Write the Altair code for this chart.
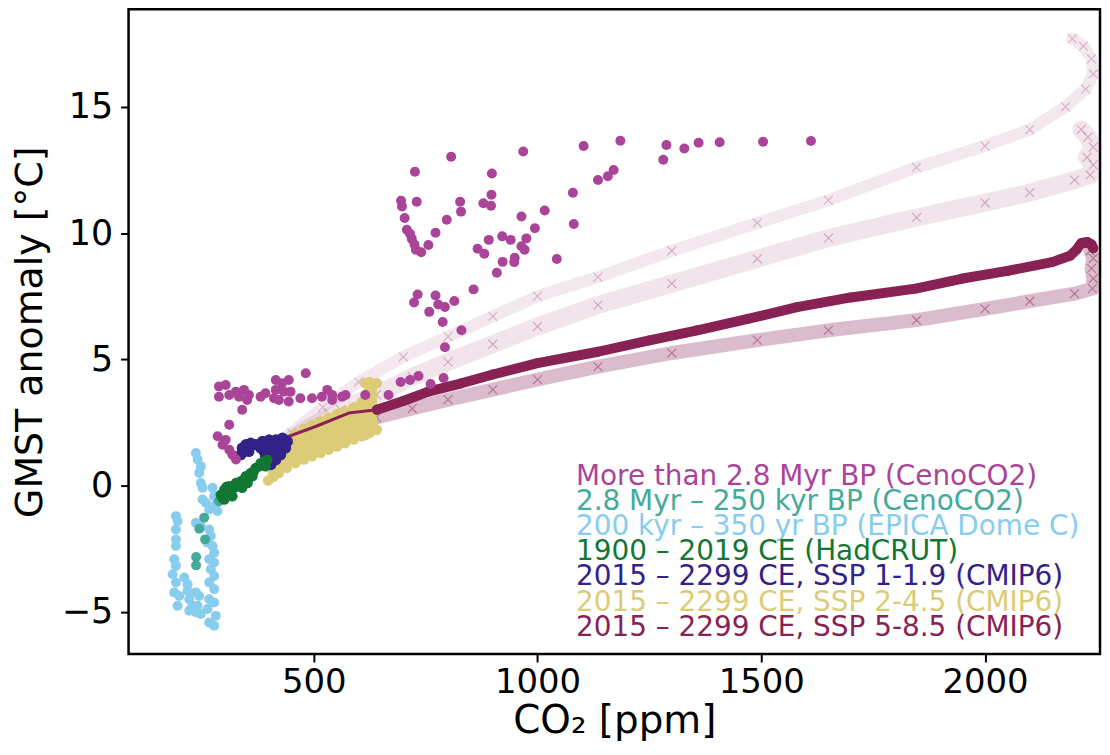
import altair as alt
import pandas as pd

# ---------------- colours (Tol muted) ----------------
C_OLD = "#AA4499"
C_YOUNG = "#44AA99"
C_EPICA = "#88CCEE"
C_HAD = "#117733"
C_119 = "#332288"
C_245 = "#DDCC77"
C_585 = "#882255"

# ---------------- data ----------------
# More than 2.8 Myr BP (CenoCO2)
ceno_old_co2 = [1103, 1185, 1288, 1328, 1360, 1407, 1504, 1611, 1281, 1170, 1157, 1135,
                968, 807, 726, 898, 1079, 897, 695, 697, 730, 827, 879, 896, 829, 1016,
                703, 964, 797, 1081, 708, 715, 772, 994, 719, 725, 756, 921, 940, 975,
                891, 866, 881, 964, 971, 728, 740, 1043, 949, 922, 948, 909, 857, 732,
                724, 772, 778, 793, 814, 758, 788, 830, 793,
                288, 303, 288, 311, 326, 344, 333, 351, 355, 381, 392, 411, 415, 415,
                429, 433, 422, 444, 448, 444, 482, 470, 496, 518, 530, 541, 541, 563,
                571, 615, 715, 340, 311, 285, 303, 296, 311, 318, 326,
                667, 694, 734, 761, 790]
ceno_old_t = [13.45, 13.66, 13.49, 13.35, 13.58, 13.60, 13.62, 13.65, 12.90, 12.50, 12.25, 12.10,
              13.23, 13.02, 12.43, 12.36, 11.60, 11.52, 11.28, 11.05, 11.24, 11.24, 11.18, 11.08, 10.85, 10.89,
              10.60, 10.66, 10.53, 10.36, 10.13, 9.97, 10.01, 10.19, 9.77, 9.55, 9.53, 9.87, 9.73, 9.79,
              9.73, 9.38, 9.18, 9.48, 9.34, 9.34, 9.24, 8.97, 9.02, 8.86, 8.85, 8.43, 7.77, 7.57,
              7.25, 7.53, 7.17, 7.07, 7.31, 6.88, 6.48, 6.15, 5.48,
              3.92, 3.98, 3.52, 3.59, 3.72, 3.79, 3.52, 3.39, 3.59, 3.52, 3.66, 3.46, 3.79, 4.18,
              4.05, 3.72, 3.39, 4.18, 3.72, 3.33, 4.45, 3.46, 3.46, 3.52, 3.79, 3.59, 3.39, 3.52,
              3.59, 3.59, 4.18, 3.00, 2.41, 1.95, 1.81, 1.62, 1.42, 1.22, 1.03,
              3.59, 4.10, 4.34, 4.02, 4.26]

# 2.8 Myr - 250 kyr BP (CenoCO2)
ceno_young_co2 = [255, 244, 257, 237, 237, 288]
ceno_young_t = [-1.27, -1.71, -2.13, -2.83, -3.16, -0.62]

# 200 kyr - 350 yr BP (EPICA Dome C)
epica_co2 = [236.5, 240.2, 247.6, 243.9, 247.6, 251.3, 273.6, 277.3, 251.3, 258.8, 281.0, 266.2,
             284.7, 191.9, 195.6, 191.9, 191.9, 191.9, 236.5, 247.6, 266.2, 269.9, 262.5, 273.6,
             277.3, 266.2, 277.3, 269.9, 277.3, 188.2, 191.9, 184.5, 191.9, 210.5, 217.9, 188.2,
             199.4, 217.9, 236.5, 221.6, 195.6, 221.6, 240.2, 243.9, 266.2, 277.3, 266.2, 277.3,
             262.5, 281.0, 266.2, 277.3, 236.5, 229.1, 247.6]
epica_t = [1.29, 1.03, 0.76, 0.50, 0.10, -0.09, -0.09, -0.42, -0.55, -0.68, -0.75, -0.95,
           -1.01, -1.21, -1.41, -1.74, -2.13, -2.39, -1.47, -1.61, -1.74, -2.00, -2.26, -2.39,
           -2.66, -2.92, -3.05, -3.31, -3.58, -2.92, -3.18, -3.51, -3.84, -3.64, -3.91, -4.23,
           -4.37, -4.17, -4.23, -4.50, -4.76, -4.96, -4.76, -4.37, -3.84, -4.10, -4.50, -4.63,
           -4.89, -5.16, -5.42, -5.55, -5.02, -4.76, -5.09]

# 1900 - 2019 CE (HadCRUT)
had_co2 = [292, 300, 296, 307, 311, 314, 322, 326, 333, 337, 344, 348, 355, 359, 366, 370,
           378, 381, 389, 392, 396, 303, 318, 340, 352, 363, 300, 305]
had_t = [-0.36, -0.16, -0.49, -0.36, -0.03, -0.29, -0.09, 0.10, -0.03, 0.17, 0.24, 0.37,
         0.30, 0.50, 0.57, 0.70, 0.76, 0.89, 0.96, 0.76, 1.02, -0.16, -0.42, -0.09, 0.10,
         0.37, -0.55, -0.05]

# 2015 - 2299 CE, SSP1-1.9 (CMIP6)
ssp119_co2 = [337, 340, 348, 359, 370, 385, 400, 415, 430, 441, 437, 422, 407, 392, 400,
              404, 415, 426, 355, 381, 355, 378, 400, 422, 389, 407]
ssp119_t = [1.22, 1.49, 1.62, 1.68, 1.62, 1.75, 1.81, 1.81, 1.88, 1.75, 1.49, 1.42, 1.29,
            1.16, 0.96, 0.83, 1.02, 1.22, 1.35, 1.49, 1.55, 1.62, 1.55, 1.62, 1.35, 1.09]

# 2015 - 2299 CE, SSP2-4.5 (CMIP6): model envelope
ssp245_co2 = [398, 410, 422, 440, 459, 478, 496, 515, 533, 552, 570, 589, 607, 615, 625, 641]
ssp245_lo = [0.20, 0.35, 0.50, 0.70, 0.89, 1.03, 1.16, 1.29, 1.42, 1.55, 1.68, 1.82, 1.95, 2.00, 2.08, 2.21]
ssp245_hi = [0.90, 1.30, 1.50, 1.85, 2.05, 2.25, 2.40, 2.55, 2.70, 2.85, 2.95, 3.10, 3.30, 4.05, 4.10, 4.05]

# 2015 - 2299 CE, SSP5-8.5 (CMIP6): solid trajectory
ssp585_early_co2 = [407, 444, 504, 578, 641]
ssp585_early_t = [1.75, 1.95, 2.34, 2.87, 3.00]
ssp585_co2 = [641, 700, 756, 830, 900, 1000, 1135, 1250, 1357, 1470, 1580, 1700, 1845,
              1950, 2050, 2150, 2190, 2205, 2215, 2228, 2238, 2242]
ssp585_t = [3.00, 3.35, 3.72, 4.05, 4.40, 4.85, 5.30, 5.75, 6.15, 6.60, 7.07, 7.45, 7.80,
            8.20, 8.50, 8.85, 9.10, 9.35, 9.60, 9.65, 9.55, 9.40]

# SSP5-8.5 individual models (faint crosses)
ssp585_a_co2 = [410, 450, 520, 600, 700, 800, 900, 1000, 1135, 1300, 1491, 1650, 1847,
                2000, 2100, 2180, 2225, 2242, 2238, 2220, 2195]
ssp585_a_t = [1.5, 2.1, 3.1, 4.1, 5.1, 5.9, 6.7, 7.5, 8.26, 9.3, 10.4, 11.3, 12.6,
              13.45, 14.1, 15.0, 15.7, 16.3, 16.9, 17.4, 17.7]
ssp585_b_co2 = [410, 480, 560, 640, 720, 800, 900, 1000, 1135, 1300, 1491, 1650, 1847,
                2000, 2100, 2200, 2235, 2242, 2228, 2242, 2230, 2215]
ssp585_b_t = [1.3, 2.2, 3.0, 3.6, 4.3, 4.9, 5.6, 6.3, 7.15, 8.0, 8.98, 9.8, 10.62,
              11.2, 11.6, 12.1, 12.3, 12.7, 13.0, 13.4, 13.8, 14.1]
ssp585_c_co2 = [410, 500, 580, 640, 720, 800, 900, 1000, 1135, 1300, 1491, 1650, 1847,
                2000, 2100, 2200, 2240, 2242, 2238, 2242, 2235]
ssp585_c_t = [1.1, 1.8, 2.3, 2.7, 3.05, 3.4, 3.8, 4.2, 4.71, 5.25, 5.76, 6.15, 6.55,
              7.0, 7.3, 7.6, 7.8, 8.2, 8.6, 9.0, 9.3]

legend_labels = [
    "More than 2.8 Myr BP (CenoCO2)",
    "2.8 Myr \u2013 250 kyr BP (CenoCO2)",
    "200 kyr \u2013 350 yr BP (EPICA Dome C)",
    "1900 \u2013 2019 CE (HadCRUT)",
    "2015 \u2013 2299 CE, SSP 1-1.9 (CMIP6)",
    "2015 \u2013 2299 CE, SSP 2-4.5 (CMIP6)",
    "2015 \u2013 2299 CE, SSP 5-8.5 (CMIP6)",
]
legend_colors = [C_OLD, C_YOUNG, C_EPICA, C_HAD, C_119, C_245, C_585]

x_ticks = [500, 1000, 1500, 2000]
y_ticks = [-5, 0, 5, 10, 15]

# ---------------- chart ----------------
FONT = "DejaVu Sans"
XDOM = [86, 2257]
YDOM = [-6.67, 18.86]

xaxis = alt.Axis(values=x_ticks, format="d", title="CO\u2082 [ppm]", labelFontSize=34, titleFontSize=39,
                 labelFont=FONT, titleFont=FONT, titleFontWeight="normal", tickSize=8,
                 tickWidth=2, tickColor="black", labelColor="black", titleColor="black",
                 domain=False, grid=False, labelPadding=4, titlePadding=2)
yaxis = alt.Axis(values=y_ticks, title="GMST anomaly [\u00b0C]", labelFontSize=35, titleFontSize=38,
                 labelFont=FONT, titleFont=FONT, titleFontWeight="normal", tickSize=8,
                 tickWidth=2, tickColor="black", labelColor="black", titleColor="black",
                 domain=False, grid=False, labelPadding=8, titlePadding=12)


def X():
    return alt.X("co2:Q", scale=alt.Scale(domain=XDOM, nice=False, zero=False), axis=xaxis)


def Y(field="t"):
    return alt.Y(f"{field}:Q", scale=alt.Scale(domain=YDOM, nice=False, zero=False), axis=yaxis)


def frame(co2, t):
    return pd.DataFrame({"co2": co2, "t": t, "i": list(range(len(co2)))})


def pts(co2, t, color, size=100, opacity=1.0):
    return alt.Chart(frame(co2, t)).mark_circle(color=color, size=size, opacity=opacity).encode(x=X(), y=Y())


def line(co2, t, color, width, opacity):
    return alt.Chart(frame(co2, t)).mark_line(
        color=color, strokeWidth=width, opacity=opacity, strokeCap="round", strokeJoin="round"
    ).encode(x=X(), y=Y(), order="i:Q")


def crosses(co2, t, opacity):
    return alt.Chart(frame(co2, t)).mark_point(
        shape="M-1,-1L1,1M-1,1L1,-1", filled=False, color=C_585, size=80,
        strokeWidth=1.2, opacity=opacity
    ).encode(x=X(), y=Y())


layers = []
# faint SSP5-8.5 model bands
layers.append(line(ssp585_a_co2, ssp585_a_t, C_585, 12, 0.10))
layers.append(line(ssp585_b_co2, ssp585_b_t, C_585, 18, 0.12))
layers.append(line(ssp585_c_co2, ssp585_c_t, C_585, 14, 0.30))
layers.append(crosses(ssp585_a_co2, ssp585_a_t, 0.25))
layers.append(crosses(ssp585_b_co2, ssp585_b_t, 0.3))
layers.append(crosses(ssp585_c_co2, ssp585_c_t, 0.45))

# SSP2-4.5 envelope
env = pd.DataFrame({"co2": ssp245_co2, "lo": ssp245_lo, "hi": ssp245_hi})
layers.append(alt.Chart(env).mark_area(color=C_245, opacity=1).encode(x=X(), y=Y("lo"), y2="hi:Q"))
layers.append(pts(ssp245_co2, ssp245_lo, C_245, 110))
layers.append(pts(ssp245_co2, ssp245_hi, C_245, 110))

# SSP5-8.5 solid trajectory
layers.append(line(ssp585_early_co2, ssp585_early_t, C_585, 3, 1))
layers.append(line(ssp585_co2, ssp585_t, C_585, 10, 1))
layers.append(pts(ssp585_co2, ssp585_t, C_585, 100))

# SSP1-1.9
layers.append(pts(ssp119_co2, ssp119_t, C_119, 125))
# EPICA
layers.append(pts(epica_co2, epica_t, C_EPICA, 100))
# CenoCO2 young
layers.append(pts(ceno_young_co2, ceno_young_t, C_YOUNG, 100))
# HadCRUT
layers.append(pts(had_co2, had_t, C_HAD, 110))
# CenoCO2 old
layers.append(pts(ceno_old_co2, ceno_old_t, C_OLD, 100))

# legend text
for i, (lab, col) in enumerate(zip(legend_labels, legend_colors)):
    layers.append(
        alt.Chart(pd.DataFrame({"label": [lab]})).mark_text(
            align="left", baseline="alphabetic", font=FONT, fontSize=28, color=col
        ).encode(x=alt.value(449), y=alt.value(477 + 25.3 * i), text="label:N")
    )

chart = alt.layer(*layers).properties(
    width=975, height=647,
    autosize=alt.AutoSizeParams(type="none"),
    padding={"left": 121, "top": 0, "right": 2, "bottom": 96},
    background="white",
).configure_view(stroke="black", strokeWidth=2.5)

chart.save("out.html", embed_options={"renderer": "svg", "actions": False})
